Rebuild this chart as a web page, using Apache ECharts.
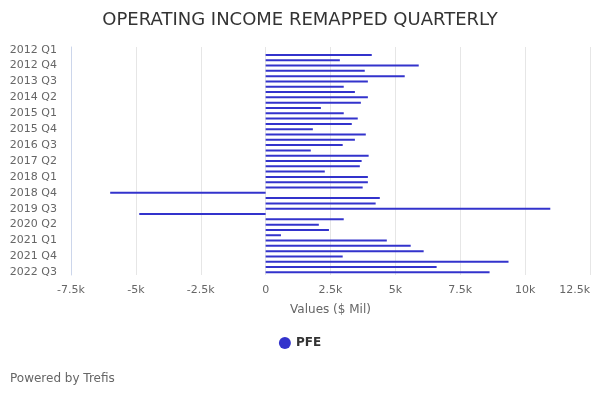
<!DOCTYPE html>
<html><head><meta charset="utf-8">
<script src="https://cdn.jsdelivr.net/npm/echarts@6/dist/echarts.min.js"></script>
<style>html,body{margin:0;padding:0;background:#fff}#c{width:600px;height:400px}</style>
</head><body><div id="c"></div>
<script>
const categories = [
 '2012 Q1','2012 Q2','2012 Q3','2012 Q4',
 '2013 Q1','2013 Q2','2013 Q3','2013 Q4',
 '2014 Q1','2014 Q2','2014 Q3','2014 Q4',
 '2015 Q1','2015 Q2','2015 Q3','2015 Q4',
 '2016 Q1','2016 Q2','2016 Q3','2016 Q4',
 '2017 Q1','2017 Q2','2017 Q3','2017 Q4',
 '2018 Q1','2018 Q2','2018 Q3','2018 Q4',
 '2019 Q1','2019 Q2','2019 Q3','2019 Q4',
 '2020 Q1','2020 Q2','2020 Q3','2020 Q4',
 '2021 Q1','2021 Q2','2021 Q3','2021 Q4',
 '2022 Q1','2022 Q2','2022 Q3'];
const pfeValues = [
 null, 4090, 2860, 5900,
 3820, 5360, 3940, 3010,
 3440, 3940, 3670, 2130,
 3010, 3550, 3320, 1820,
 3860, 3440, 2970, 1740,
 3970, 3700, 3630, 2280,
 3940, 3940, 3740, -5990,
 4400, 4240, 10970, -4870,
 3010, 2050, 2440, 590,
 4670, 5590, 6090, 2970,
 9360, 6590, 8630];
const xTicks = {min: -7500, max: 12500, interval: 2500};

const chart = echarts.init(document.getElementById('c'));
chart.setOption({
  animation: false,
  title: {text: 'OPERATING INCOME REMAPPED QUARTERLY', left: 'center', top: 6,
    textStyle: {fontSize: 18, fontWeight: 'normal', color: '#333', fontFamily: 'DejaVu Sans'}},
  legend: {data: ['PFE'], bottom: 46, left: 'center', icon: 'circle', itemWidth: 12, itemHeight: 12,
    textStyle: {fontWeight: 'bold', color: '#333', fontSize: 12, fontFamily: 'DejaVu Sans'}},
  graphic: [{type: 'text', left: 10, top: 373,
    style: {text: 'Powered by Trefis', fill: '#666', font: '12px DejaVu Sans'}}],
  grid: {left: 71, right: 10, top: 47, bottom: 125, containLabel: false, outerBoundsMode: 'none'},
  xAxis: {type: 'value', min: xTicks.min, max: xTicks.max, interval: xTicks.interval,
    name: 'Values ($ Mil)', nameLocation: 'middle', nameGap: 29,
    nameTextStyle: {color: '#666', fontSize: 12, fontFamily: 'DejaVu Sans'},
    axisLabel: {color: '#666', fontSize: 11, margin: 10, fontFamily: 'DejaVu Sans',
      alignMaxLabel: 'right',
      formatter: v => v === 0 ? '0' : (v / 1000) + 'k'},
    splitLine: {show: true, lineStyle: {color: '#e6e6e6'}},
    axisLine: {show: false}, axisTick: {show: false}},
  yAxis: {type: 'category', data: categories, inverse: true,
    axisLine: {show: true, onZero: false, lineStyle: {color: '#ccd6eb'}},
    axisTick: {show: false},
    axisLabel: {interval: 2, color: '#666', fontSize: 11, margin: 14, fontFamily: 'DejaVu Sans'}},
  series: [{name: 'PFE', type: 'bar', data: pfeValues, barWidth: 2,
    itemStyle: {color: '#3333cc'}}]
});
</script></body></html>
